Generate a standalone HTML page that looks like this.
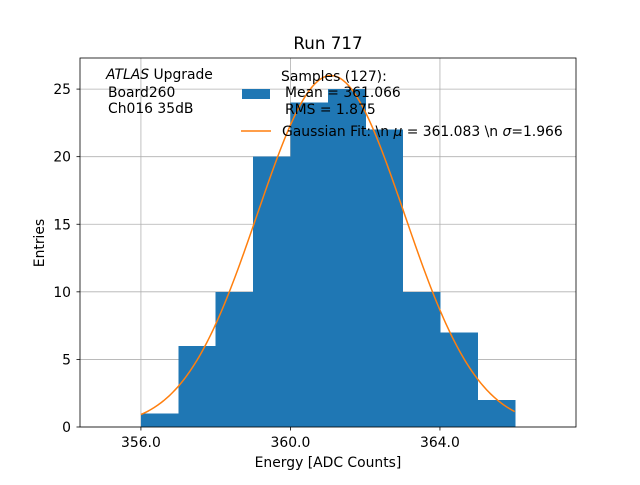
<!DOCTYPE html>
<html><head><meta charset="utf-8"><style>body{margin:0;background:#fff}svg{font-family:"DejaVu Sans","Liberation Sans",sans-serif}</style></head>
<body>
<svg id="c" width="640" height="480" xmlns="http://www.w3.org/2000/svg">
<rect width="640" height="480" fill="#fff"/>
<g id="grid"></g><g id="bars" shape-rendering="crispEdges"></g><g id="fit"></g><g id="axes"></g>
</svg>
<script>
const binEdges=[356,357,358,359,360,361,362,363,364,365,366];
const counts=[1,6,10,20,24,25,22,10,7,2];
const xTicks=[356,360,364];
const xTickLabels=["356.0","360.0","364.0"];
const yTicks=[0,5,10,15,20,25];
const fitAmp=[26.0];const fitMu=[361.083];const fitSigma=[1.966];
const L=80,R=576,T=58,B=427,x0=354.37,x1=367.64,y0=0,y1=27.3;
const X=v=>L+(v-x0)/(x1-x0)*(R-L);
const Y=v=>B-(v-y0)/(y1-y0)*(B-T);
const NS="http://www.w3.org/2000/svg";
function mk(p,t,a){const e=document.createElementNS(NS,t);for(const k in a)e.setAttribute(k,a[k]);p.appendChild(e);return e;}
const g=document.getElementById('grid'),b=document.getElementById('bars'),f=document.getElementById('fit'),ax=document.getElementById('axes');
xTicks.forEach((v,i)=>{
 let l=mk(g,'line',{x1:X(v),x2:X(v),y1:T,y2:B,stroke:'#b0b0b0','stroke-width':0.8});
 
 mk(ax,'line',{x1:X(v),x2:X(v),y1:B,y2:B+3.5,stroke:'#000','stroke-width':0.8});
 let t=mk(ax,'text',{x:X(v),y:B+20,'font-size':13.9,'text-anchor':'middle'});t.textContent=xTickLabels[i];
 
});
yTicks.forEach(v=>{
 let l=mk(g,'line',{x1:L,x2:R,y1:Y(v),y2:Y(v),stroke:'#b0b0b0','stroke-width':0.8});
 
 mk(ax,'line',{x1:L-3.5,x2:L,y1:Y(v),y2:Y(v),stroke:'#000','stroke-width':0.8});
 let t=mk(ax,'text',{x:L-9,y:Y(v)+5,'font-size':13.9,'text-anchor':'end'});t.textContent=v;
 
});
counts.forEach((c,i)=>{
 let r=mk(b,'rect',{x:X(binEdges[i]),y:Y(c),width:X(binEdges[i+1])-X(binEdges[i])+0.6,height:Y(0)-Y(c),fill:'#1f77b4'});
 
});
let pts=[];for(let k=0;k<=200;k++){const v=356+10*k/200;pts.push(X(v)+','+Y(fitAmp[0]*Math.exp(-((v-fitMu[0])**2)/(2*fitSigma[0]**2))));}
let pl=mk(f,'polyline',{points:pts.join(' '),fill:'none',stroke:'#ff7f0e','stroke-width':1.5});

let fr=mk(ax,'rect',{x:L,y:T,width:R-L,height:B-T,fill:'none',stroke:'#000','stroke-width':0.8});

</script>
<svg style="position:absolute;left:0;top:0" width="640" height="480" xmlns="http://www.w3.org/2000/svg">
<text x="328" y="49" font-size="16.7" text-anchor="middle">Run 717</text>
<text x="328" y="467" font-size="13.9" text-anchor="middle">Energy [ADC Counts]</text>
<text transform="translate(44,243) rotate(-90)" font-size="13.9" text-anchor="middle">Entries</text>
<g font-size="13.9">
<text x="106" y="79"><tspan font-style="italic">ATLAS</tspan> Upgrade</text>
<text x="108" y="97">Board260</text>
<text x="108" y="113">Ch016 35dB</text>
</g>
<g font-size="13.9">
<rect x="242" y="89" width="28" height="10" fill="#1f77b4"/>
<text x="281" y="81">Samples (127):</text>
<text x="285" y="97">Mean = 361.066</text>
<text x="285" y="114">RMS = 1.875</text>
<line x1="241" x2="271" y1="131" y2="131" stroke="#ff7f0e" stroke-width="1.5"/>
<text x="282" y="136">Gaussian Fit: \n <tspan font-style="italic">μ</tspan> = 361.083 \n <tspan font-style="italic">σ</tspan>=1.966</text>
</g>
</svg>
</body></html>
